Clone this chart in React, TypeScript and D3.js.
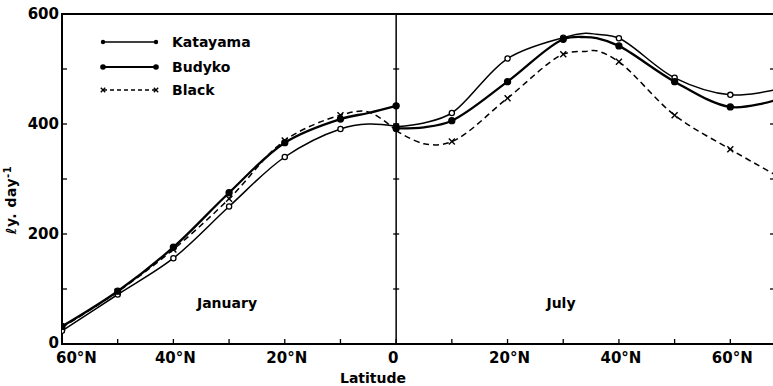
import * as d3 from "d3";

const janLat = [60, 50, 40, 30, 20, 10, 5, 0];
const janKatayama = [24, 90, 156, 250, 340, 391, 400, 396];
const janBudyko = [32, 96, 176, 275, 366, 409, 420, 433];
const janBlack = [30, 95, 172, 264, 370, 416, 422, 388];

const julLat = [0, 5, 10, 20, 30, 34, 36, 40, 50, 60, 68];
const julKatayama = [395, 402, 420, 519, 557, 565, 563, 556, 484, 453, 462];
const julBudyko = [392, 394, 406, 477, 554, 558, 556, 542, 477, 431, 443];
const julBlack = [388, 364, 368, 447, 527, 532, 533, 513, 416, 354, 308];

const yTicks = [0, 100, 200, 300, 400, 500, 600];
const yLabels = [0, 200, 400, 600];
const xLabels = [-60, -40, -20, 0, 20, 40, 60];

const legendItems = ["Katayama", "Budyko", "Black"];

const W = 773;
const H = 386;
const FONT = "'DejaVu Sans', sans-serif";

const xScale = d3.scaleLinear().domain([-60, 70]).range([62, 786]);
const yScale = d3.scaleLinear().domain([0, 600]).range([344, 14]);

type Pt = { p: number; v: number; lat: number };

const toPts = (lats: number[], vals: number[], sign: number): Pt[] =>
  lats.map((lat, i) => ({ p: sign * lat, v: vals[i], lat }));

const line = d3
  .line<Pt>()
  .x((d) => xScale(d.p))
  .y((d) => yScale(d.v))
  .curve(d3.curveCatmullRom.alpha(0.5));

const Cross = ({ cx, cy, s = 3 }: { cx: number; cy: number; s?: number }) => (
  <g stroke="#000" strokeWidth={1.4}>
    <line x1={cx - s} y1={cy - s} x2={cx + s} y2={cy + s} />
    <line x1={cx - s} y1={cy + s} x2={cx + s} y2={cy - s} />
  </g>
);

const Series = ({ pts, kind }: { pts: Pt[]; kind: string }) => {
  const marks = pts.filter((d) => d.lat % 10 === 0);
  return (
    <g>
      <path
        d={line(pts) || ""}
        fill="none"
        stroke="#000"
        strokeWidth={kind === "Budyko" ? 2.3 : 1.5}
        strokeDasharray={kind === "Black" ? "6,4" : undefined}
      />
      {marks.map((d, i) =>
        kind === "Black" ? (
          d.lat === 0 ? null : <Cross key={i} cx={xScale(d.p)} cy={yScale(d.v)} />
        ) : (
          <circle
            key={i}
            cx={xScale(d.p)}
            cy={yScale(d.v)}
            r={kind === "Budyko" ? 3 : 2.6}
            fill={kind === "Budyko" ? "#000" : "#fff"}
            stroke="#000"
            strokeWidth={1.3}
          />
        )
      )}
    </g>
  );
};

export default function App() {
  const x0 = xScale(0);
  const left = xScale(-60);
  const bottom = yScale(0);
  const top = yScale(600);

  const janSeries = [
    { kind: "Katayama", pts: toPts(janLat, janKatayama, -1) },
    { kind: "Budyko", pts: toPts(janLat, janBudyko, -1) },
    { kind: "Black", pts: toPts(janLat, janBlack, -1) },
  ];
  const julSeries = [
    { kind: "Katayama", pts: toPts(julLat, julKatayama, 1) },
    { kind: "Budyko", pts: toPts(julLat, julBudyko, 1) },
    { kind: "Black", pts: toPts(julLat, julBlack, 1) },
  ];

  const xTicks = d3.range(-60, 71, 10).filter((t) => xScale(t) <= W);

  return (
    <div style={{ position: "absolute", left: 0, top: 0 }}>
      <svg width={W} height={H} fontFamily={FONT} style={{ display: "block", background: "#fff" }}>
        <defs>
          <clipPath id="plot">
            <rect x={left} y={0} width={W - left} height={bottom} />
          </clipPath>
        </defs>

        {/* frame */}
        <g stroke="#000" fill="none">
          <line x1={left} y1={top} x2={W} y2={top} strokeWidth={2} />
          <line x1={left} y1={top - 1} x2={left} y2={bottom + 1} strokeWidth={2} />
          <line x1={left} y1={bottom} x2={W} y2={bottom} strokeWidth={2.2} />
          <line x1={x0} y1={top} x2={x0} y2={bottom} strokeWidth={1.5} />
        </g>

        {/* y ticks */}
        <g stroke="#000" strokeWidth={1.3}>
          {yTicks.slice(1, -1).map((t) => (
            <g key={t}>
              <line x1={left} y1={yScale(t)} x2={left + 5} y2={yScale(t)} />
              <line x1={x0 - 3} y1={yScale(t)} x2={x0 + 3} y2={yScale(t)} />
              <line x1={W - 3} y1={yScale(t)} x2={W} y2={yScale(t)} />
            </g>
          ))}
        </g>
        {yLabels.map((t) => (
          <text
            key={t}
            x={left - 3}
            y={t === 0 ? yScale(t) - 1 : yScale(t)}
            dy="0.36em"
            textAnchor="end"
            fontSize={15}
            fontWeight="bold"
          >
            {t}
          </text>
        ))}

        {/* x ticks */}
        <g stroke="#000" strokeWidth={1.3}>
          {xTicks.map((t) => (
            <line key={t} x1={xScale(t)} y1={bottom} x2={xScale(t)} y2={bottom - 5} />
          ))}
        </g>
        {xLabels.map((t, i) => (
          <text
            key={t}
            x={i === 0 ? 56 : xScale(t) + (t === 0 ? -3 : 2)}
            y={363}
            textAnchor={i === 0 ? "start" : "middle"}
            fontSize={15}
            fontWeight="bold"
          >
            {t === 0 ? "0" : `${Math.abs(t)}°N`}
          </text>
        ))}
        <text x={373} y={383} textAnchor="middle" fontSize={14} fontWeight="bold">
          Latitude
        </text>

        {/* y title */}
        <text
          transform="translate(16,200) rotate(-90)"
          textAnchor="middle"
          fontSize={14}
          fontWeight="bold"
          letterSpacing={0.5}
        >
          ℓy. day<tspan dy={-5} fontSize={10}>-1</tspan>
        </text>

        {/* curves */}
        <g clipPath="url(#plot)">
          {janSeries.map((s) => (
            <Series key={"j" + s.kind} pts={s.pts} kind={s.kind} />
          ))}
          {julSeries.map((s) => (
            <Series key={"u" + s.kind} pts={s.pts} kind={s.kind} />
          ))}
        </g>

        {/* panel labels */}
        <text x={227} y={308} textAnchor="middle" fontSize={14} fontWeight="bold">
          January
        </text>
        <text x={561} y={308} textAnchor="middle" fontSize={14} fontWeight="bold">
          July
        </text>

        {/* legend */}
        {legendItems.map((name, i) => {
          const ly = [42, 67, 90][i];
          return (
            <g key={name}>
              <line
                x1={103}
                y1={ly}
                x2={156}
                y2={ly}
                stroke="#000"
                strokeWidth={name === "Budyko" ? 2 : 1.5}
                strokeDasharray={name === "Black" ? "4,3" : undefined}
              />
              {name === "Black" ? (
                <>
                  <Cross cx={103} cy={ly} s={2.2} />
                  <Cross cx={156} cy={ly} s={2.2} />
                </>
              ) : (
                <>
                  <circle cx={103} cy={ly} r={name === "Budyko" ? 2.8 : 2.2} fill="#000" />
                  <circle cx={156} cy={ly} r={name === "Budyko" ? 2.8 : 2.2} fill="#000" />
                </>
              )}
              <text x={172} y={ly + 5} fontSize={14} fontWeight="bold">
                {name}
              </text>
            </g>
          );
        })}
      </svg>
    </div>
  );
}
